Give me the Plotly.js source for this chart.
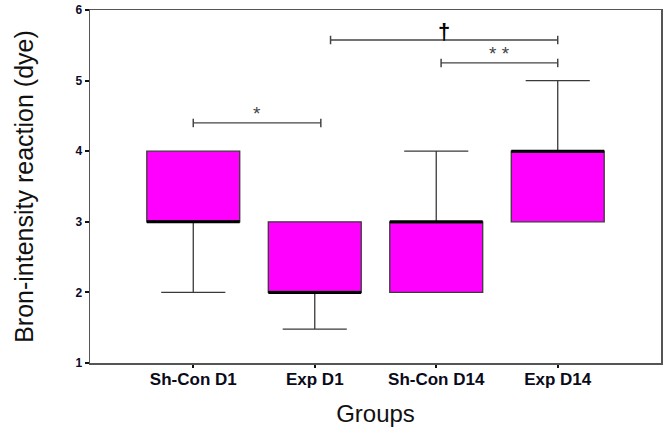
<!DOCTYPE html>
<html>
<head>
<meta charset="utf-8">
<script src="https://cdn.plot.ly/plotly-3.0.1.min.js"></script>
<style>html,body{margin:0;padding:0;background:#fff;}#chart{width:665px;height:431px;}</style>
</head>
<body>
<div id="chart"></div>
<script>
const groups = ['Sh-Con D1', 'Exp D1', 'Sh-Con D14', 'Exp D14'];
const q1 = [3, 2, 2, 3];
const median = [3, 2, 3, 4];
const q3 = [4, 3, 3, 4];
const lowerWhisker = [2, 1.48, 2, 3];
const upperWhisker = [4, 3, 4, 5];

// significance brackets (category index from/to, y level, label)
const sigFrom = [0, 1.13, 2.04];
const sigTo = [1.05, 3, 3];
const sigY = [4.4, 5.575, 5.25];
const sigLabel = ['*', '\u2020', '* *'];

const yTicks = [1, 2, 3, 4, 5, 6];

const boxWidth = 0.765;

const trace = {
  type: 'box',
  x: groups,
  q1: q1,
  median: median,
  q3: q3,
  lowerfence: lowerWhisker,
  upperfence: upperWhisker,
  width: boxWidth,
  whiskerwidth: 0.69,
  fillcolor: '#ff00ff',
  line: {color: '#3a3a3a', width: 1.3},
  boxpoints: false,
  hoverinfo: 'skip',
  showlegend: false
};

const shapes = [];
groups.forEach((g, i) => {
  shapes.push({type: 'line', xref: 'x', yref: 'y', x0: i - boxWidth / 2, x1: i + boxWidth / 2,
    y0: median[i], y1: median[i], line: {color: '#000', width: 3}, layer: 'above'});
});
const annotations = [];
sigY.forEach((y, k) => {
  shapes.push({type: 'line', xref: 'x', yref: 'y', x0: sigFrom[k], x1: sigTo[k], y0: y, y1: y,
    line: {color: '#444', width: 1.3}});
  [sigFrom[k], sigTo[k]].forEach(xe => {
    shapes.push({type: 'line', xref: 'x', yref: 'y', x0: xe, x1: xe, y0: y - 0.06, y1: y + 0.06,
      line: {color: '#444', width: 1.5}});
  });
  const isDagger = sigLabel[k] === '\u2020';
  annotations.push({
    x: (sigFrom[k] + sigTo[k]) / 2, y: y, xref: 'x', yref: 'y',
    text: isDagger ? '<b>' + sigLabel[k] + '</b>' : sigLabel[k],
    showarrow: false, yanchor: 'bottom', yshift: isDagger ? -6 : -3,
    font: {family: 'Liberation Sans, Arial, sans-serif', size: isDagger ? 22 : 19, color: isDagger ? '#000' : '#444'}
  });
});

const layout = {
  width: 665, height: 431,
  margin: {l: 90, r: 4, t: 10, b: 68},
  paper_bgcolor: '#fff', plot_bgcolor: '#fff',
  font: {family: 'Liberation Sans, Arial, sans-serif', color: '#000'},
  xaxis: {
    type: 'category',
    range: [-0.85, 3.85],
    showline: true, mirror: true, linecolor: '#555', linewidth: 1.5,
    showgrid: false, zeroline: false,
    ticks: 'outside', ticklen: 3, tickwidth: 2, tickcolor: '#111',
    ticklabelstandoff: -3,
    tickfont: {family: 'Liberation Sans, Arial, sans-serif', size: 17, color: '#0a0a1a', weight: 'bold'},
    title: {text: 'Groups', font: {size: 24, color: '#111'}, standoff: 17}
  },
  yaxis: {
    range: [1, 6],
    tickvals: yTicks,
    showline: true, mirror: true, linecolor: '#555', linewidth: 1.5,
    showgrid: false, zeroline: false,
    ticks: 'outside', ticklen: 4, tickwidth: 2, tickcolor: '#111',
    tickfont: {family: 'Liberation Sans, Arial, sans-serif', size: 12, color: '#0a0a2a', weight: 'bold'},
    title: {text: 'Bron-intensity reaction (dye)', font: {size: 25, color: '#111'}, standoff: 34}
  },
  shapes: shapes,
  annotations: annotations
};

Plotly.newPlot('chart', [trace], layout, {displayModeBar: false, staticPlot: true});
</script>
</body>
</html>
